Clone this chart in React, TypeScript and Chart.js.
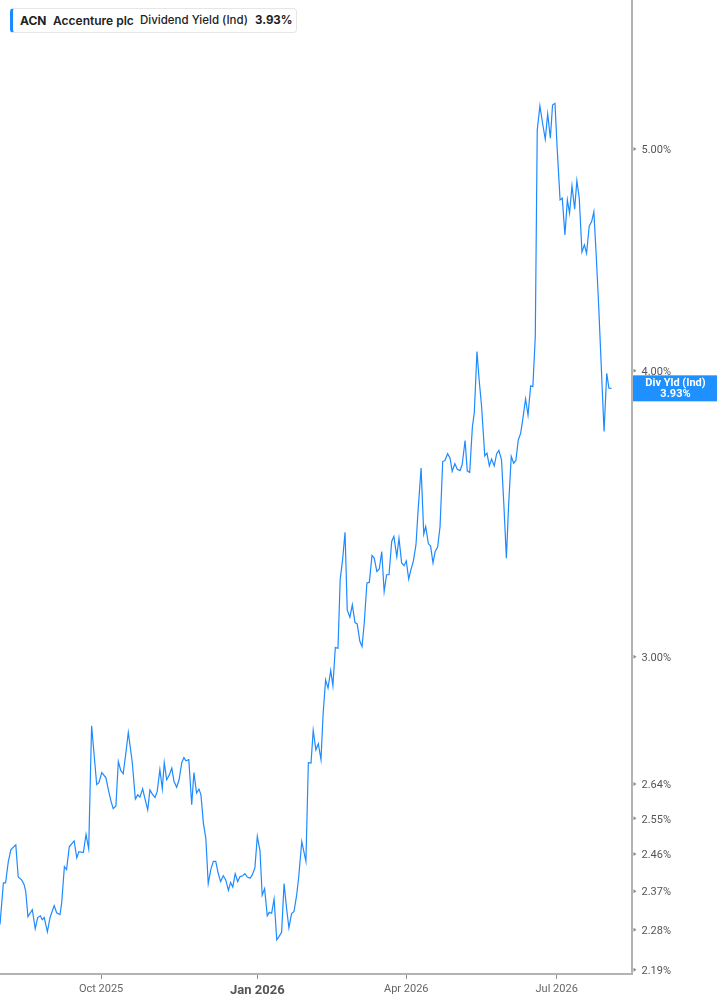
import React, { useEffect, useRef } from 'react';
import { Chart, registerables } from 'chart.js';

Chart.register(...registerables);

// Trading-day index (0 = first session shown) for each reading
const tradingDay = [
  0, 1.4, 2.3, 3.4, 4.5, 6.5, 7.5, 8.9, 9.9, 10.6, 11.5, 13.3, 14.5, 15.5, 16.6, 17.4, 18.2, 19.5, 20.6, 22.3,
  23.3, 24.7, 25.4, 26.5, 27.4, 28.5, 30.5, 31.6, 32.5, 34.3, 35.4, 36.5, 37.7, 39.8, 40.7, 41.9, 43.6,
  44.6, 45.7, 46.6, 47.7, 48.7, 49.7, 50.7, 51.7, 52.8, 54.4, 55.7, 56.7, 57.6, 58.7, 59.7, 60.8, 61.7, 62.7,
  63.8, 64.7, 65.8, 66.8, 67.6, 68.6, 69.7, 70.7, 71.6, 72.7, 73.7, 74.8, 75.7, 76.5, 77.7, 78.9, 79.8, 80.9,
  81.9, 82.7, 83.7, 84.7, 85.7,
  86.8, 87.8, 88.8, 89.8, 90.8, 91.9, 92.9, 94.0, 94.9, 95.8, 96.8, 97.8, 98.8, 99.9, 100.8, 101.8, 102.9,
  103.8, 104.9, 105.9, 107.0, 107.9, 108.9, 110.0, 110.8, 111.8, 112.8, 113.9, 114.8, 115.9, 116.9, 118.0,
  118.9, 120.0, 121.0, 122.1, 122.9, 124.2, 125.9, 126.9,
  128.0, 128.9, 130.0, 131.0, 132.1, 133.0, 134.0, 135.0, 136.1, 137.0, 138.0, 139.1, 140.0, 141.0, 142.0,
  142.9, 144.0, 145.0, 146.1, 147.0, 148.1, 149.0, 149.9, 151.0, 152.0, 153.1, 154.0, 155.1, 156.1, 157.1,
  158.1, 159.1, 160.1, 161.2, 162.1, 163.3, 164.2, 165.3, 166.3, 167.2,
  168.2, 169.1, 170.1, 171.2, 172.1, 173.3, 174.4, 175.2, 176.3, 177.2, 178.2, 179.1, 180.1, 181.1, 182.2,
  183.1, 184.2, 185.2, 186.1, 187.2, 188.2, 189.3, 190.2, 191.4, 192.3, 193.3, 194.4, 195.2, 196.3, 197.2,
  198.2, 199.5, 200.4, 201.4, 202.3, 203.4, 204.4, 205.3, 206.4, 207.4, 208.4, 209.3, 210.4, 211.4, 212.3,
  213.3, 214.3, 215.3, 216.3, 217.3, 218.4, 219.3, 220.3, 221.1, 222.2, 223.3, 224.4, 225.4, 226.5, 227.4,
  228.4, 229.3, 230.5, 231.4, 232.5, 233.5, 234.4, 235.4, 236.5, 237.4, 238.4, 239.5, 240.5, 241.4, 242.5,
  243.5, 244.4, 245.4, 246.4, 247.4, 248.6, 249.7, 250.6, 251.7,
];

// Dividend yield (indicated), percent
const dividendYield = [
  2.292, 2.39, 2.39, 2.441, 2.471, 2.483, 2.404, 2.397, 2.386, 2.369, 2.31, 2.326, 2.282, 2.308, 2.312, 2.303,
  2.308, 2.275, 2.308, 2.336, 2.319, 2.315, 2.343, 2.429, 2.422, 2.478, 2.493, 2.451, 2.466, 2.464, 2.509,
  2.473, 2.799, 2.638, 2.643, 2.67, 2.656,
  2.624, 2.594, 2.575, 2.582, 2.7, 2.676, 2.667, 2.718, 2.78, 2.7, 2.6, 2.611, 2.605, 2.627, 2.6, 2.572, 2.624,
  2.613, 2.604, 2.62, 2.678, 2.627, 2.697, 2.651, 2.664, 2.682, 2.647, 2.631, 2.651, 2.697, 2.711, 2.702,
  2.705, 2.585, 2.67, 2.616, 2.626, 2.611, 2.538, 2.5, 2.388,
  2.423, 2.442, 2.442, 2.413, 2.393, 2.407, 2.397, 2.372, 2.391, 2.38, 2.412, 2.393, 2.405, 2.407, 2.412,
  2.404, 2.401, 2.409, 2.426, 2.504, 2.468, 2.36, 2.376, 2.312, 2.32, 2.318, 2.351, 2.257, 2.264, 2.274,
  2.388, 2.326, 2.284, 2.317, 2.322, 2.361, 2.402, 2.491, 2.442, 2.697,
  2.696, 2.786, 2.732, 2.749, 2.705, 2.835, 2.931, 2.907, 2.959, 2.914, 3.028, 3.026, 3.242, 3.308, 3.4,
  3.145, 3.122, 3.161, 3.105, 3.101, 3.047, 3.031, 3.103, 3.231, 3.233, 3.322, 3.313, 3.269, 3.277, 3.335,
  3.203, 3.258, 3.258, 3.369, 3.386, 3.318, 3.38, 3.297, 3.288, 3.304,
  3.244, 3.274, 3.302, 3.358, 3.48, 3.627, 3.394, 3.42, 3.361, 3.354, 3.297, 3.335, 3.35, 3.42, 3.651,
  3.655, 3.68, 3.664, 3.615, 3.643, 3.623, 3.618, 3.639, 3.729, 3.617, 3.611, 3.779, 3.836, 4.078, 3.963,
  3.859, 3.672, 3.682, 3.635, 3.66, 3.635, 3.68, 3.692, 3.657, 3.49, 3.313, 3.49, 3.67, 3.645, 3.655,
  3.731, 3.757, 3.82, 3.888, 3.826, 3.94, 3.937, 4.14, 5.096, 5.221, 5.131, 5.049, 5.179, 5.054, 5.226,
  5.235, 5.004, 4.75, 4.758, 4.586, 4.75, 4.687, 4.817, 4.706, 4.843, 4.758, 4.507, 4.54, 4.502, 4.627,
  4.648, 4.694, 4.487, 4.267, 4.03, 3.763, 3.99, 3.931, 3.93,
];

const yTickValues = [2.19, 2.28, 2.37, 2.46, 2.55, 2.64, 3.0, 4.0, 5.0];
const monthTickDays = [41.6, 105.9, 167.2, 229.1];
const monthTickLabels = ['Oct 2025', 'Jan 2026', 'Apr 2026', 'Jul 2026'];
const yearStartLabel = 'Jan 2026';
const xRange = [0, 260.1];
const yRange = [2.1805, 5.808];

const ticker = 'ACN';
const company = 'Accenture plc';
const metricName = 'Dividend Yield (Ind)';
const metricShort = 'Div Yld (Ind)';
const latestYield = 3.93;

const BLUE = 'rgb(30,138,255)';
const AXIS = '#b3b3b3';
const FONT = 'Roboto, "Noto Sans", sans-serif';

export default function App() {
  const canvasRef = useRef<HTMLCanvasElement | null>(null);

  useEffect(() => {
    document.body.style.margin = '0';
    const canvas = canvasRef.current;
    if (!canvas) return;

    const overlay = {
      id: 'overlay',
      afterDraw(chart: any) {
        const ctx = chart.ctx;
        const ys = chart.scales.y;
        const area = chart.chartArea;
        ctx.save();
        ctx.fillStyle = '#8a8a8a';
        yTickValues.forEach((v) => {
          const py = ys.getPixelForValue(v);
          ctx.beginPath();
          ctx.moveTo(area.right + 1.5, py - 2);
          ctx.lineTo(area.right + 4.5, py);
          ctx.lineTo(area.right + 1.5, py + 2);
          ctx.closePath();
          ctx.fill();
        });
        const py = ys.getPixelForValue(latestYield);
        ctx.fillStyle = 'rgb(30,144,255)';
        ctx.fillRect(area.right + 1, py - 13, chart.width - area.right - 1, 26);
        ctx.fillStyle = '#ffffff';
        ctx.font = 'bold 11px ' + FONT;
        ctx.textAlign = 'center';
        ctx.textBaseline = 'middle';
        const cx = (area.right + chart.width) / 2 + 1;
        ctx.fillText(metricShort, cx, py - 5);
        ctx.fillText(latestYield.toFixed(2) + '%', cx, py + 6);
        ctx.restore();
      },
    };

    const chart = new Chart(canvas, {
      type: 'line',
      data: {
        datasets: [
          {
            data: tradingDay.map((d, i) => ({ x: d, y: dividendYield[i] })),
            borderColor: BLUE,
            borderWidth: 1.2,
            pointRadius: 0,
            tension: 0,
            fill: false,
          },
        ],
      },
      options: {
        animation: false,
        responsive: true,
        maintainAspectRatio: false,
        layout: { padding: 0 },
        plugins: { legend: { display: false }, tooltip: { enabled: false } },
        scales: {
          x: {
            type: 'linear',
            min: xRange[0],
            max: xRange[1],
            afterBuildTicks: (s: any) => {
              s.ticks = monthTickDays.map((v) => ({ value: v }));
            },
            afterFit: (s: any) => {
              s.height = 31;
              s.paddingLeft = 0;
              s.paddingRight = 0;
            },
            grid: { display: true, drawOnChartArea: false, drawTicks: true, tickLength: 5, color: '#8c8c8c', lineWidth: 1 },
            border: { display: true, color: AXIS, width: 2 },
            ticks: {
              autoSkip: false,
              maxRotation: 0,
              padding: 4,
              callback: (_v: any, i: number) => monthTickLabels[i],
              color: (c: any) => (monthTickLabels[c.index] === yearStartLabel ? '#555555' : '#666666'),
              font: (c: any) =>
                monthTickLabels[c.index] === yearStartLabel
                  ? { family: FONT, size: 13, weight: 'bold' }
                  : { family: FONT, size: 11 },
            },
          },
          y: {
            type: 'logarithmic',
            position: 'right',
            min: yRange[0],
            max: yRange[1],
            afterBuildTicks: (s: any) => {
              s.ticks = yTickValues.map((v) => ({ value: v }));
            },
            afterFit: (s: any) => {
              s.width = 85;
              s.paddingTop = 0;
              s.paddingBottom = 0;
            },
            grid: { display: false, drawTicks: false },
            border: { display: true, color: AXIS, width: 2 },
            ticks: {
              padding: 9.5,
              labelOffset: 1.5,
              color: '#555555',
              font: { family: FONT, size: 11 },
              callback: (v: any) => Number(v).toFixed(2) + '%',
            },
          },
        },
      },
      plugins: [overlay],
    } as any);

    return () => chart.destroy();
  }, []);

  const legendText: React.CSSProperties = {
    position: 'absolute',
    top: 13,
    fontFamily: 'Inter, "Noto Sans", sans-serif',
    fontSize: 12,
    lineHeight: '15px',
    color: '#222',
    whiteSpace: 'nowrap',
  };

  return (
    <div style={{ position: 'absolute', left: 0, top: 0, width: 717, height: 1005, background: '#fff' }}>
      <canvas ref={canvasRef} />
      <div
        style={{
          position: 'absolute',
          left: 10,
          top: 8,
          width: 287,
          height: 25,
          boxSizing: 'border-box',
          border: '1px solid #e6e6e6',
          borderLeft: '3px solid ' + BLUE,
          borderRadius: 4,
          background: '#fff',
        }}
      />
      <span style={{ ...legendText, left: 20, fontWeight: 700 }}>{ticker}</span>
      <span style={{ ...legendText, left: 53, fontWeight: 600 }}>{company}</span>
      <span style={{ ...legendText, left: 140, fontWeight: 500, fontSize: 11.5 }}>{metricName}</span>
      <span style={{ ...legendText, left: 255, fontWeight: 700, fontSize: 11.5 }}>{latestYield.toFixed(2) + '%'}</span>
    </div>
  );
}
